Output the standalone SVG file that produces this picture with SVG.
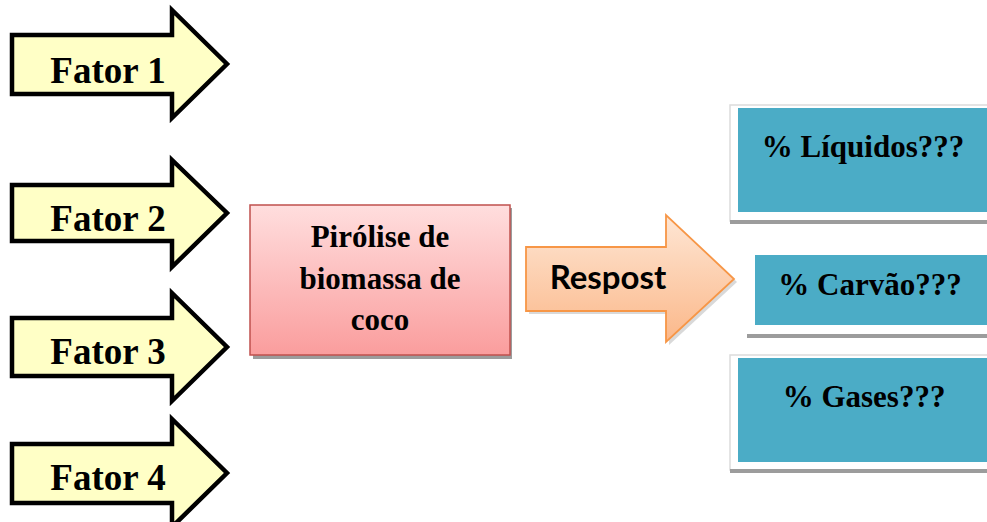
<svg xmlns="http://www.w3.org/2000/svg" width="987" height="522" viewBox="0 0 987 522">
<defs>
<style>
.fat{fill:#ffffc6;stroke:#000;stroke-width:4.5;stroke-linejoin:miter}
.ft{font-family:"Liberation Serif","Times New Roman",serif;font-weight:bold;font-size:37px;fill:#000;text-anchor:middle}
.bt{font-family:"Liberation Serif","Times New Roman",serif;font-weight:bold;font-size:31px;fill:#000;text-anchor:middle}
.blue{fill:#4bacc6}
.sh{fill:#9c9c9c}
.frame{fill:#fff;stroke:#dcdcdc;stroke-width:1.5}
</style>
<linearGradient id="gpink" x1="0" y1="0" x2="0" y2="1">
<stop offset="0" stop-color="#ffdede"/>
<stop offset="1" stop-color="#fa9d9d"/>
</linearGradient>
<linearGradient id="gor" x1="0" y1="0" x2="0" y2="1">
<stop offset="0" stop-color="#fee6d4"/>
<stop offset="1" stop-color="#fbb88a"/>
</linearGradient>
</defs>
<g id="fator1">
<path class="fat" d="M12,35 H172 V10 L227,64 L172,118 V94 H12 Z"/>
<text class="ft" x="108" y="83">Fator 1</text>
</g>
<g id="fator2">
<path class="fat" d="M12,185 H172 V160 L227,213 L172,267 V241 H12 Z"/>
<text class="ft" x="108" y="231">Fator 2</text>
</g>
<g id="fator3">
<path class="fat" d="M12,318 H172 V293 L227,347 L172,401 V376 H12 Z"/>
<text class="ft" x="108" y="364">Fator 3</text>
</g>
<g id="fator4">
<path class="fat" d="M12,444 H172 V419 L227,473 L172,527 V503 H12 Z"/>
<text class="ft" x="108" y="490">Fator 4</text>
</g>
<g id="pirolise">
<rect x="253" y="208" width="259" height="151" class="sh"/>
<rect x="250" y="205" width="260" height="150" fill="url(#gpink)" stroke="#c0504d" stroke-width="1.5"/>
<text class="bt" x="380" y="247">Pirólise de</text>
<text class="bt" x="380" y="289">biomassa de</text>
<text class="bt" x="380" y="330">coco</text>
</g>
<g id="resposta">
<path d="M529,250 H669 V218 L737,282 L669,345 V314 H529 Z" fill="#bfbfbf" opacity="0.6"/>
<path d="M526,247 H666 V215 L734,279 L666,342 V311 H526 Z" fill="url(#gor)" stroke="#f79646" stroke-width="1.8" stroke-linejoin="miter"/>
<text x="608" y="289" font-family="Lato,'Liberation Sans',Arial,sans-serif" font-weight="bold" font-size="33" fill="#000" text-anchor="middle">Respost</text>
</g>
<g id="liquidos">
<rect x="730" y="105" width="262" height="116" class="frame"/>
<rect x="730" y="220" width="262" height="4" class="sh"/>
<rect x="738" y="108" width="254" height="104" class="blue"/>
<text class="bt" x="863" y="157">% Líquidos???</text>
</g>
<g id="carvao">
<rect x="747" y="251" width="245" height="84" fill="#fff"/>
<rect x="747" y="334" width="245" height="4" class="sh"/>
<rect x="755" y="255" width="237" height="70" class="blue"/>
<text class="bt" x="870" y="295">% Carvão???</text>
</g>
<g id="gases">
<rect x="730" y="355" width="262" height="115" class="frame"/>
<rect x="730" y="469" width="262" height="4" class="sh"/>
<rect x="738" y="358" width="254" height="104" class="blue"/>
<text class="bt" x="864" y="407">% Gases???</text>
</g>
<g id="connectors"/>
</svg>
